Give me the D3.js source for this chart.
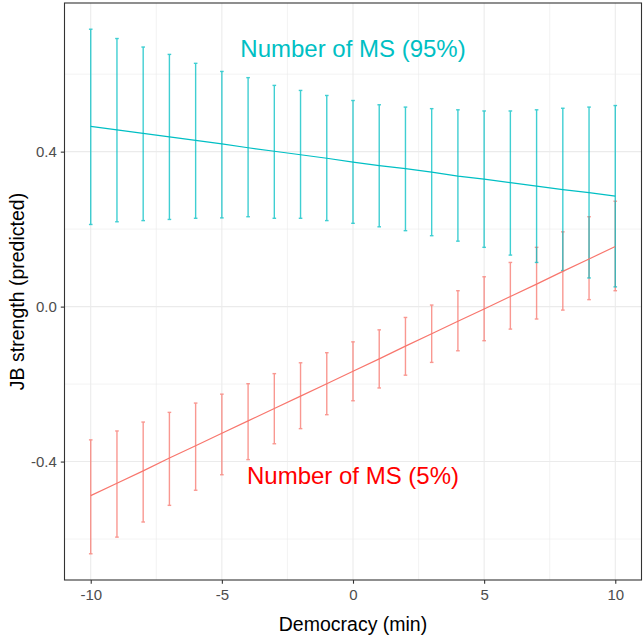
<!DOCTYPE html>
<html>
<head>
<meta charset="utf-8">
<script src="https://cdn.jsdelivr.net/npm/d3@7"></script>
<style>
  body { margin: 0; background: #fff; }
  svg { display: block; font-family: "Liberation Sans", Arial, sans-serif; }
</style>
</head>
<body>
<script>
// democracy values on the x axis
const democracy = [-10, -9, -8, -7, -6, -5, -4, -3, -2, -1, 0, 1, 2, 3, 4, 5, 6, 7, 8, 9, 10];

// Number of MS (95%) - predicted, lower, upper
const hiFit = [0.465, 0.456, 0.447, 0.438, 0.429, 0.420, 0.410, 0.401, 0.392, 0.383, 0.373,
  0.364, 0.356, 0.347, 0.337, 0.329, 0.320, 0.311, 0.302, 0.294, 0.285];
const hiLow = [0.212, 0.219, 0.222, 0.225, 0.228, 0.229, 0.232, 0.228, 0.228, 0.222, 0.215,
  0.206, 0.196, 0.183, 0.169, 0.153, 0.133, 0.114, 0.093, 0.074, 0.051];
const hiUp = [0.716, 0.692, 0.670, 0.651, 0.628, 0.607, 0.591, 0.571, 0.558, 0.545, 0.532,
  0.521, 0.515, 0.511, 0.508, 0.505, 0.505, 0.508, 0.512, 0.515, 0.519];

// Number of MS (5%) - predicted, lower, upper
const loFit = [-0.488, -0.456, -0.424, -0.391, -0.359, -0.327, -0.295, -0.263, -0.231, -0.199, -0.167,
  -0.135, -0.102, -0.070, -0.038, -0.006, 0.026, 0.058, 0.091, 0.123, 0.155];
const loLow = [-0.638, -0.595, -0.556, -0.513, -0.474, -0.434, -0.395, -0.354, -0.315, -0.279, -0.243,
  -0.210, -0.177, -0.144, -0.114, -0.088, -0.058, -0.032, -0.009, 0.018, 0.041];
const loUp = [-0.344, -0.321, -0.298, -0.273, -0.249, -0.226, -0.199, -0.173, -0.145, -0.119, -0.091,
  -0.060, -0.028, 0.004, 0.041, 0.077, 0.114, 0.153, 0.193, 0.232, 0.272];

const xTicks = [-10, -5, 0, 5, 10];
const xMinor = [-7.5, -2.5, 2.5, 7.5];
const yTicks = [-0.4, 0.0, 0.4];
const yMinor = [-0.6, -0.2, 0.2, 0.6];

const labels = [
  { text: 'Number of MS (95%)', x: 0, y: 0.644, color: '#00BFC4' },
  { text: 'Number of MS (5%)', x: 0, y: -0.459, color: '#FF0000' }
];

const width = 643, height = 637;
const pLeft = 64.5, pRight = 641.5, pTop = 3, pBottom = 580;

const svg = d3.select('body').append('svg')
  .attr('width', width)
  .attr('height', height);

// 5% expansion like ggplot
function expand(ext) {
  const pad = (ext[1] - ext[0]) * 0.05;
  return [ext[0] - pad, ext[1] + pad];
}

const x = d3.scaleLinear()
  .domain(expand(d3.extent(democracy)))
  .range([pLeft, pRight]);

const y = d3.scaleLinear()
  .domain(expand(d3.extent(hiUp.concat(loLow, hiLow, loUp))))
  .range([pBottom, pTop]);

// grid
const grid = svg.append('g');
grid.selectAll('.xminor').data(xMinor).enter().append('line')
  .attr('x1', d => x(d)).attr('x2', d => x(d))
  .attr('y1', pTop).attr('y2', pBottom)
  .attr('stroke', '#EBEBEB').attr('stroke-width', 0.6);
grid.selectAll('.yminor').data(yMinor).enter().append('line')
  .attr('y1', d => y(d)).attr('y2', d => y(d))
  .attr('x1', pLeft).attr('x2', pRight)
  .attr('stroke', '#EBEBEB').attr('stroke-width', 0.6);
grid.selectAll('.xmajor').data(xTicks).enter().append('line')
  .attr('x1', d => x(d)).attr('x2', d => x(d))
  .attr('y1', pTop).attr('y2', pBottom)
  .attr('stroke', '#EBEBEB').attr('stroke-width', 1.1);
grid.selectAll('.ymajor').data(yTicks).enter().append('line')
  .attr('y1', d => y(d)).attr('y2', d => y(d))
  .attr('x1', pLeft).attr('x2', pRight)
  .attr('stroke', '#EBEBEB').attr('stroke-width', 1.1);

// series
const series = [
  { fit: loFit, low: loLow, up: loUp, color: '#F8766D' },
  { fit: hiFit, low: hiLow, up: hiUp, color: '#00BFC4' }
];

const line = d3.line()
  .x(d => x(d[0]))
  .y(d => y(d[1]));

series.forEach(function(s) {
  const g = svg.append('g').attr('stroke', s.color).attr('opacity', 0.75)
    .attr('stroke-width', 1.4).attr('fill', 'none');
  democracy.forEach(function(d, i) {
    const cx = x(d);
    g.append('line').attr('x1', cx).attr('x2', cx)
      .attr('y1', y(s.low[i])).attr('y2', y(s.up[i]));
    g.append('line').attr('x1', cx - 1.8).attr('x2', cx + 1.8)
      .attr('y1', y(s.low[i])).attr('y2', y(s.low[i]));
    g.append('line').attr('x1', cx - 1.8).attr('x2', cx + 1.8)
      .attr('y1', y(s.up[i])).attr('y2', y(s.up[i]));
  });
});

series.forEach(function(s) {
  svg.append('path')
    .datum(democracy.map((d, i) => [d, s.fit[i]]))
    .attr('d', line)
    .attr('fill', 'none')
    .attr('stroke', s.color)
    .attr('stroke-width', 1.2);
});

// labels
svg.selectAll('.lab').data(labels).enter().append('text')
  .attr('x', d => x(d.x))
  .attr('y', d => y(d.y))
  .attr('text-anchor', 'middle')
  .attr('fill', d => d.color)
  .style('font-size', '24px')
  .text(d => d.text);

// panel border
svg.append('rect')
  .attr('x', pLeft).attr('y', pTop)
  .attr('width', pRight - pLeft).attr('height', pBottom - pTop)
  .attr('fill', 'none')
  .attr('stroke', '#333333')
  .attr('stroke-width', 1.1);

// axes
const xAxis = svg.append('g')
  .attr('transform', 'translate(0,' + pBottom + ')')
  .call(d3.axisBottom(x).tickValues(xTicks).tickSize(3.7).tickPadding(6));
const yAxis = svg.append('g')
  .attr('transform', 'translate(' + pLeft + ',0)')
  .call(d3.axisLeft(y).tickValues(yTicks).tickSize(3.7).tickPadding(4));

[xAxis, yAxis].forEach(function(a) {
  a.select('.domain').remove();
  a.selectAll('.tick line').attr('stroke', '#333333').attr('stroke-width', 1.1);
  a.selectAll('.tick text')
    .attr('fill', '#4D4D4D')
    .style('font-size', '15px')
    .style('font-family', '"Liberation Sans", Arial, sans-serif');
});
// plain hyphen minus, as in R output
xAxis.selectAll('.tick text').text(d => String(d));
yAxis.selectAll('.tick text').text(d => d.toFixed(1));

// axis titles
svg.append('text')
  .attr('x', (pLeft + pRight) / 2)
  .attr('y', 631)
  .attr('text-anchor', 'middle')
  .style('font-size', '19.5px')
  .attr('fill', '#000')
  .text('Democracy (min)');

svg.append('text')
  .attr('transform', 'translate(24,' + (pTop + pBottom) / 2 + ') rotate(-90)')
  .attr('text-anchor', 'middle')
  .style('font-size', '19.5px')
  .attr('fill', '#000')
  .text('JB strength (predicted)');
</script>
</body>
</html>
